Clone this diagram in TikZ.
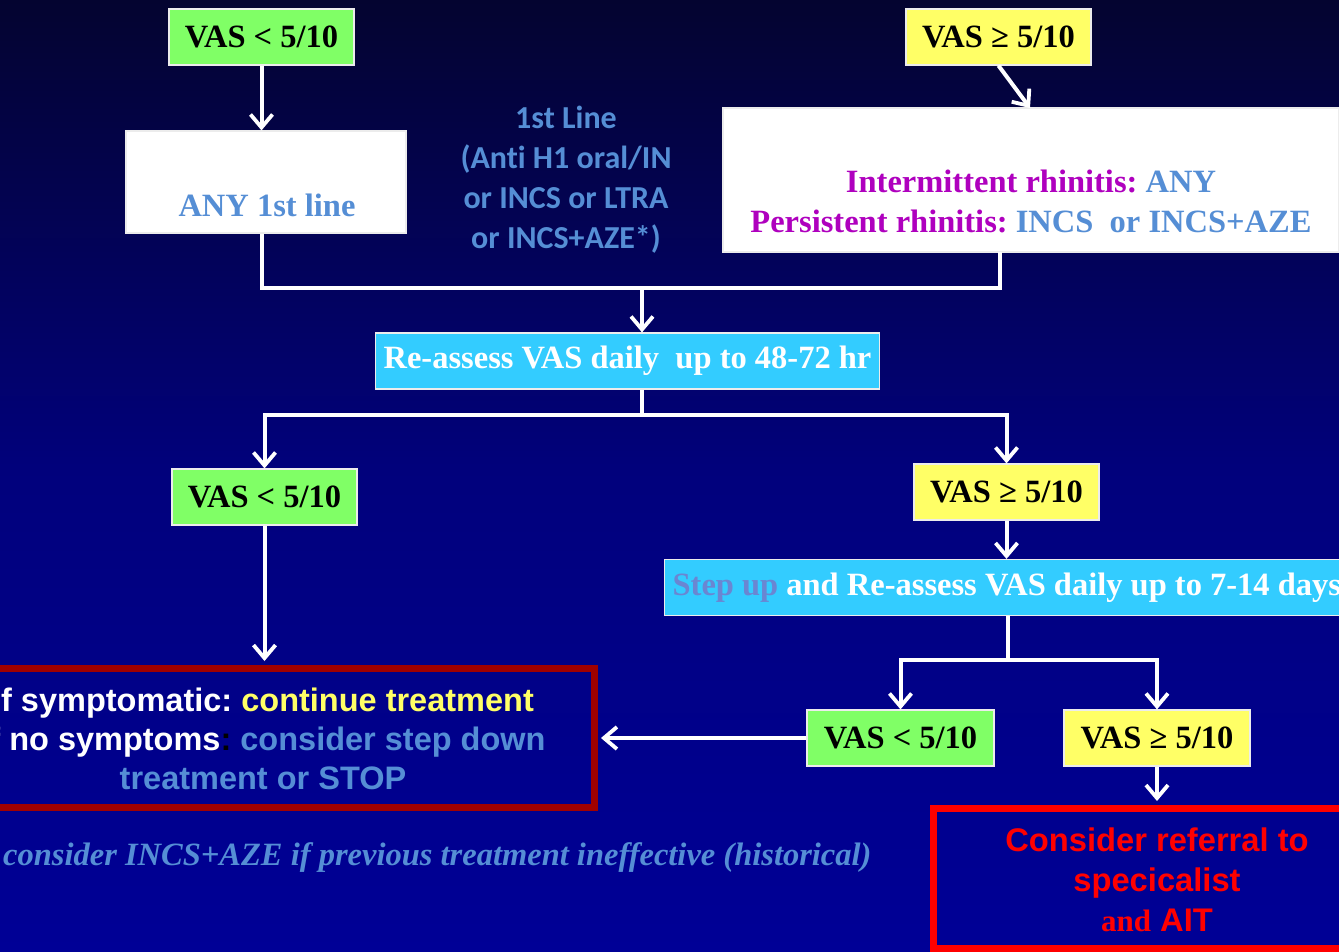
\documentclass[tikz,border=0pt]{standalone}
\usepackage{fontspec}
\setmainfont{Liberation Serif}
\setsansfont{Liberation Sans}
\newfontfamily\calib[Ligatures=NoCommon]{Carlito}
\usetikzlibrary{arrows.meta,calc}
\frenchspacing

\definecolor{bgtop}{RGB}{4,4,48}
\definecolor{bgbot}{RGB}{0,0,150}
\definecolor{vgreen}{RGB}{128,255,102}
\definecolor{vyellow}{RGB}{255,255,102}
\definecolor{vcyan}{RGB}{51,204,255}
\definecolor{txtblue}{RGB}{85,142,213}
\definecolor{stepblue}{RGB}{106,134,210}
\definecolor{rhpurple}{RGB}{175,0,190}
\definecolor{darkred}{RGB}{160,0,0}
\definecolor{tyellow}{RGB}{255,255,102}

\tikzset{
  vasbox/.style={draw=white!85!gray, line width=1.2pt, minimum width=185pt,
    minimum height=56pt, inner sep=0pt, text=black,
    font=\fontsize{32.5}{36}\selectfont\bfseries},
  greenbox/.style={vasbox, fill=vgreen},
  yellowbox/.style={vasbox, fill=vyellow},
  whitebox/.style={draw=white!85!gray, line width=1.2pt, fill=white, inner sep=0pt},
  cyanbox/.style={draw=white!85!gray, line width=1.2pt, fill=vcyan, minimum height=56pt,
    inner xsep=8pt, inner ysep=0pt, text=white, font=\fontsize{32.5}{36}\selectfont\bfseries},
  serifbold/.style={font=\fontsize{32.5}{40}\selectfont\bfseries},
  conn/.style={draw=white, line width=4pt},
  arr/.style={conn, -{Straight Barb[length=13pt,width=22pt,line width=3.8pt]}},
}

\begin{document}
\begin{tikzpicture}[x=1pt,y=-1pt]
  % page and background
  \useasboundingbox (0,0) rectangle (1339,951);
  \clip (0,0) rectangle (1339,951);
  \shade[top color=bgtop, bottom color=bgbot, middle color=bgbot!75!bgtop] (0,0) rectangle (1339,951);

  % top row
  \node[greenbox] (g1) at (261.5,37) {VAS < 5/10};
  \node[yellowbox] (y1) at (998.5,37) {VAS ≥ 5/10};

  \node[whitebox, minimum width=280pt, minimum height=102pt] (any) at (266,182) {};
  \node[serifbold, text=txtblue] (anytxt) at (267,205) {ANY 1st line};

  \node[text=txtblue, align=center, font=\calib\fontsize{32}{40}\selectfont\bfseries]
    (first) at (566,180) {1st Line\\(Anti H1 oral/IN\\or INCS or LTRA\\or INCS+AZE*)};

  \node[whitebox, minimum width=616pt, minimum height=144pt] (sev) at (1031,180) {};
  \node[serifbold, align=center, text=rhpurple] (sevtxt) at (1031,201)
    {Intermittent rhinitis: \textcolor{txtblue}{ANY}\\
     Persistent rhinitis: \textcolor{txtblue}{INCS\ \ or INCS+AZE}};

  % re-assessment
  \node[cyanbox, minimum width=503pt] (reassess) at (627.5,361) {Re-assess VAS daily\ \ up to 48-72 hr};

  \node[greenbox] (g2) at (264.5,497) {VAS < 5/10};
  \node[yellowbox] (y2) at (1006.5,492) {VAS ≥ 5/10};

  \node[cyanbox, anchor=west] (stepup) at (664,587.5)
    {\textcolor{stepblue}{Step up} and Re-assess VAS daily up to 7-14 days};

  \node[greenbox, minimum width=187pt] (g3) at (900.5,738) {VAS < 5/10};
  \node[yellowbox, minimum width=186pt] (y3) at (1157,738) {VAS ≥ 5/10};

  % outcome boxes
  \node[draw=darkred, line width=7pt, minimum width=662pt, minimum height=139pt, inner sep=0pt]
    (sympt) at (263,737.5) {};
  \node[align=center, text=white, font=\sffamily\fontsize{32.5}{39}\selectfont\bfseries]
    (symtxt) at (263,739)
    {If symptomatic: \textcolor{tyellow}{continue treatment}\\
     If no symptoms\textcolor{black}{:} \textcolor{txtblue}{consider step down}\\
     \textcolor{txtblue}{treatment or STOP}};

  \node[draw=red, line width=7pt, minimum width=448pt, minimum height=140pt, inner sep=0pt]
    (refer) at (1157,878) {};
  \node[align=center, text=red, font=\sffamily\fontsize{32.7}{40}\selectfont\bfseries]
    (refertxt) at (1157,880)
    {Consider referral to\\specicalist\\{\rmfamily\fontsize{31}{40}\selectfont and} AIT};

  \node[anchor=west, inner sep=0pt, text=txtblue, font=\fontsize{32.5}{36}\selectfont\bfseries\itshape]
    (note) at (3,858) {consider INCS+AZE if previous treatment ineffective (historical)};

  % connectors
  \coordinate (sevin) at (1030,108);
  \coordinate (sevout) at (1000,252);
  \coordinate (j1) at (642,288);
  \coordinate (j2) at (642,415);
  \coordinate (j3) at (1008,660);

  \draw[arr] (g1.south) -- (g1.south |- any.north);
  \draw[arr] (y1.south) -- (sevin);
  \draw[conn] (g1.south |- any.south) |- (j1) -| (sevout);
  \draw[arr] (j1) -- (j1 |- reassess.north);

  \draw[conn] (j2 |- reassess.south) -- (j2);
  \draw[arr] (j2) -| (g2.north);
  \draw[arr] (j2) -| (y2.north);
  \draw[arr] (y2.south) -- (y2.south |- stepup.north);

  \draw[conn] (j3 |- stepup.south) -- (j3);
  \draw[arr] (j3) -| (g3.north);
  \draw[arr] (j3) -| (y3.north);

  \draw[arr] (g3.west) -- ($(g3.west -| sympt.east)+(3.5,0)$);
  \draw[arr] (g2.south) -- ($(g2.south |- sympt.north)+(0,-3.5)$);
  \draw[arr] (y3.south) -- ($(y3.south |- refer.north)+(0,-3.5)$);
\end{tikzpicture}
\end{document}
